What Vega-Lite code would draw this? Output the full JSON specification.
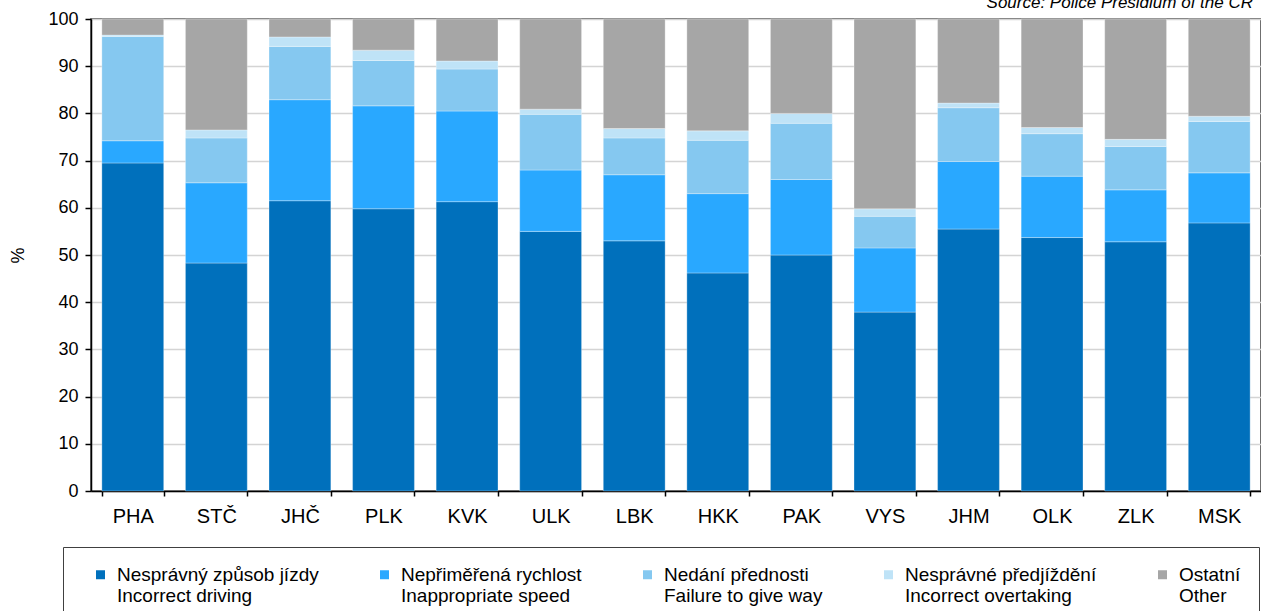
{
  "$schema": "https://vega.github.io/schema/vega-lite/v6.json",
  "width": 1170,
  "height": 472,
  "autosize": "none",
  "padding": {"left": 91, "top": 19, "right": 0, "bottom": 120},
  "background": "white",
  "title": {"text": "Source: Police Presidium of the CR", "anchor": "end", "frame": "group", "font": "Liberation Sans", "fontSize": 17, "fontStyle": "italic", "fontWeight": "normal", "color": "#000000", "baseline": "alphabetic", "offset": -15, "dx": -8},
  "config": {
    "font": "Liberation Sans",
    "view": {"stroke": "#404040", "strokeWidth": 1.5},
    "axis": {"labelFont": "Liberation Sans", "titleFont": "Liberation Sans", "labelColor": "#000000", "titleColor": "#000000", "titleFontWeight": "normal", "domainColor": "#000000", "tickColor": "#000000", "domainWidth": 1.5, "tickWidth": 1.5}
  },
  "data": {
    "values": [
      {"region": "PHA", "cause": "Nesprávný způsob jízdy|Incorrect driving", "value": 69.5},
      {"region": "PHA", "cause": "Nepřiměřená rychlost|Inappropriate speed", "value": 4.7},
      {"region": "PHA", "cause": "Nedání přednosti|Failure to give way", "value": 22.1},
      {"region": "PHA", "cause": "Nesprávné předjíždění|Incorrect overtaking", "value": 0.3},
      {"region": "PHA", "cause": "Ostatní|Other", "value": 3.4},
      {"region": "STČ", "cause": "Nesprávný způsob jízdy|Incorrect driving", "value": 48.3},
      {"region": "STČ", "cause": "Nepřiměřená rychlost|Inappropriate speed", "value": 17.0},
      {"region": "STČ", "cause": "Nedání přednosti|Failure to give way", "value": 9.5},
      {"region": "STČ", "cause": "Nesprávné předjíždění|Incorrect overtaking", "value": 1.7},
      {"region": "STČ", "cause": "Ostatní|Other", "value": 23.5},
      {"region": "JHČ", "cause": "Nesprávný způsob jízdy|Incorrect driving", "value": 61.5},
      {"region": "JHČ", "cause": "Nepřiměřená rychlost|Inappropriate speed", "value": 21.4},
      {"region": "JHČ", "cause": "Nedání přednosti|Failure to give way", "value": 11.3},
      {"region": "JHČ", "cause": "Nesprávné předjíždění|Incorrect overtaking", "value": 2.0},
      {"region": "JHČ", "cause": "Ostatní|Other", "value": 3.8},
      {"region": "PLK", "cause": "Nesprávný způsob jízdy|Incorrect driving", "value": 59.8},
      {"region": "PLK", "cause": "Nepřiměřená rychlost|Inappropriate speed", "value": 21.8},
      {"region": "PLK", "cause": "Nedání přednosti|Failure to give way", "value": 9.6},
      {"region": "PLK", "cause": "Nesprávné předjíždění|Incorrect overtaking", "value": 2.2},
      {"region": "PLK", "cause": "Ostatní|Other", "value": 6.6},
      {"region": "KVK", "cause": "Nesprávný způsob jízdy|Incorrect driving", "value": 61.3},
      {"region": "KVK", "cause": "Nepřiměřená rychlost|Inappropriate speed", "value": 19.2},
      {"region": "KVK", "cause": "Nedání přednosti|Failure to give way", "value": 8.9},
      {"region": "KVK", "cause": "Nesprávné předjíždění|Incorrect overtaking", "value": 1.7},
      {"region": "KVK", "cause": "Ostatní|Other", "value": 8.9},
      {"region": "ULK", "cause": "Nesprávný způsob jízdy|Incorrect driving", "value": 55.0},
      {"region": "ULK", "cause": "Nepřiměřená rychlost|Inappropriate speed", "value": 13.0},
      {"region": "ULK", "cause": "Nedání přednosti|Failure to give way", "value": 11.8},
      {"region": "ULK", "cause": "Nesprávné předjíždění|Incorrect overtaking", "value": 1.1},
      {"region": "ULK", "cause": "Ostatní|Other", "value": 19.1},
      {"region": "LBK", "cause": "Nesprávný způsob jízdy|Incorrect driving", "value": 53.0},
      {"region": "LBK", "cause": "Nepřiměřená rychlost|Inappropriate speed", "value": 14.0},
      {"region": "LBK", "cause": "Nedání přednosti|Failure to give way", "value": 7.8},
      {"region": "LBK", "cause": "Nesprávné předjíždění|Incorrect overtaking", "value": 2.0},
      {"region": "LBK", "cause": "Ostatní|Other", "value": 23.2},
      {"region": "HKK", "cause": "Nesprávný způsob jízdy|Incorrect driving", "value": 46.2},
      {"region": "HKK", "cause": "Nepřiměřená rychlost|Inappropriate speed", "value": 16.8},
      {"region": "HKK", "cause": "Nedání přednosti|Failure to give way", "value": 11.3},
      {"region": "HKK", "cause": "Nesprávné předjíždění|Incorrect overtaking", "value": 2.0},
      {"region": "HKK", "cause": "Ostatní|Other", "value": 23.7},
      {"region": "PAK", "cause": "Nesprávný způsob jízdy|Incorrect driving", "value": 50.0},
      {"region": "PAK", "cause": "Nepřiměřená rychlost|Inappropriate speed", "value": 16.0},
      {"region": "PAK", "cause": "Nedání přednosti|Failure to give way", "value": 11.9},
      {"region": "PAK", "cause": "Nesprávné předjíždění|Incorrect overtaking", "value": 2.1},
      {"region": "PAK", "cause": "Ostatní|Other", "value": 20.0},
      {"region": "VYS", "cause": "Nesprávný způsob jízdy|Incorrect driving", "value": 37.9},
      {"region": "VYS", "cause": "Nepřiměřená rychlost|Inappropriate speed", "value": 13.6},
      {"region": "VYS", "cause": "Nedání přednosti|Failure to give way", "value": 6.7},
      {"region": "VYS", "cause": "Nesprávné předjíždění|Incorrect overtaking", "value": 1.6},
      {"region": "VYS", "cause": "Ostatní|Other", "value": 40.2},
      {"region": "JHM", "cause": "Nesprávný způsob jízdy|Incorrect driving", "value": 55.5},
      {"region": "JHM", "cause": "Nepřiměřená rychlost|Inappropriate speed", "value": 14.3},
      {"region": "JHM", "cause": "Nedání přednosti|Failure to give way", "value": 11.4},
      {"region": "JHM", "cause": "Nesprávné předjíždění|Incorrect overtaking", "value": 1.0},
      {"region": "JHM", "cause": "Ostatní|Other", "value": 17.8},
      {"region": "OLK", "cause": "Nesprávný způsob jízdy|Incorrect driving", "value": 53.7},
      {"region": "OLK", "cause": "Nepřiměřená rychlost|Inappropriate speed", "value": 13.0},
      {"region": "OLK", "cause": "Nedání přednosti|Failure to give way", "value": 9.0},
      {"region": "OLK", "cause": "Nesprávné předjíždění|Incorrect overtaking", "value": 1.3},
      {"region": "OLK", "cause": "Ostatní|Other", "value": 23.0},
      {"region": "ZLK", "cause": "Nesprávný způsob jízdy|Incorrect driving", "value": 52.8},
      {"region": "ZLK", "cause": "Nepřiměřená rychlost|Inappropriate speed", "value": 11.0},
      {"region": "ZLK", "cause": "Nedání přednosti|Failure to give way", "value": 9.2},
      {"region": "ZLK", "cause": "Nesprávné předjíždění|Incorrect overtaking", "value": 1.5},
      {"region": "ZLK", "cause": "Ostatní|Other", "value": 25.5},
      {"region": "MSK", "cause": "Nesprávný způsob jízdy|Incorrect driving", "value": 56.8},
      {"region": "MSK", "cause": "Nepřiměřená rychlost|Inappropriate speed", "value": 10.6},
      {"region": "MSK", "cause": "Nedání přednosti|Failure to give way", "value": 10.9},
      {"region": "MSK", "cause": "Nesprávné předjíždění|Incorrect overtaking", "value": 1.1},
      {"region": "MSK", "cause": "Ostatní|Other", "value": 20.6}
    ]
  },
  "mark": {"type": "bar", "stroke": "#ffffff", "strokeWidth": 0.6, "strokeOpacity": 0.5},
  "encoding": {
    "x": {
      "field": "region", "type": "nominal", "sort": null,
      "scale": {"paddingInner": 0.26, "paddingOuter": 0.13},
      "axis": {"title": null, "labelAngle": 0, "tickBand": "extent", "tickSize": 5, "labelPadding": 10, "labelFontSize": 20, "grid": false}
    },
    "y": {
      "field": "value", "type": "quantitative", "stack": "zero",
      "scale": {"domain": [0, 100], "nice": false},
      "axis": {"title": "%", "titleFontSize": 18, "labelFontSize": 18, "values": [0, 10, 20, 30, 40, 50, 60, 70, 80, 90, 100], "tickSize": 6, "labelPadding": 7, "titlePadding": 20, "grid": true, "gridColor": "#d4d4d4", "gridWidth": 1.5}
    },
    "color": {
      "field": "cause", "type": "nominal",
      "sort": ["Nesprávný způsob jízdy|Incorrect driving", "Nepřiměřená rychlost|Inappropriate speed", "Nedání přednosti|Failure to give way", "Nesprávné předjíždění|Incorrect overtaking", "Ostatní|Other"],
      "scale": {"domain": ["Nesprávný způsob jízdy|Incorrect driving", "Nepřiměřená rychlost|Inappropriate speed", "Nedání přednosti|Failure to give way", "Nesprávné předjíždění|Incorrect overtaking", "Ostatní|Other"], "range": ["#0070BC", "#29A8FF", "#85C8F0", "#BFE3F7", "#A6A6A6"]},
      "legend": {
        "title": null, "orient": "none", "legendX": -28, "legendY": 528, "direction": "horizontal", "columns": 5,
        "labelExpr": "split(datum.label, '|')",
        "symbolType": "square", "symbolSize": 81, "symbolStrokeWidth": 0, "symbolOffset": 10,
        "labelFont": "Liberation Sans", "labelFontSize": 19, "labelColor": "#000000", "labelLimit": 400, "labelOffset": 7,
        "columnPadding": 46, "padding": 18, "strokeColor": "#404040", "fillColor": "#ffffff"
      }
    },
    "order": {"field": "stackorder", "type": "quantitative"}
  }
}
